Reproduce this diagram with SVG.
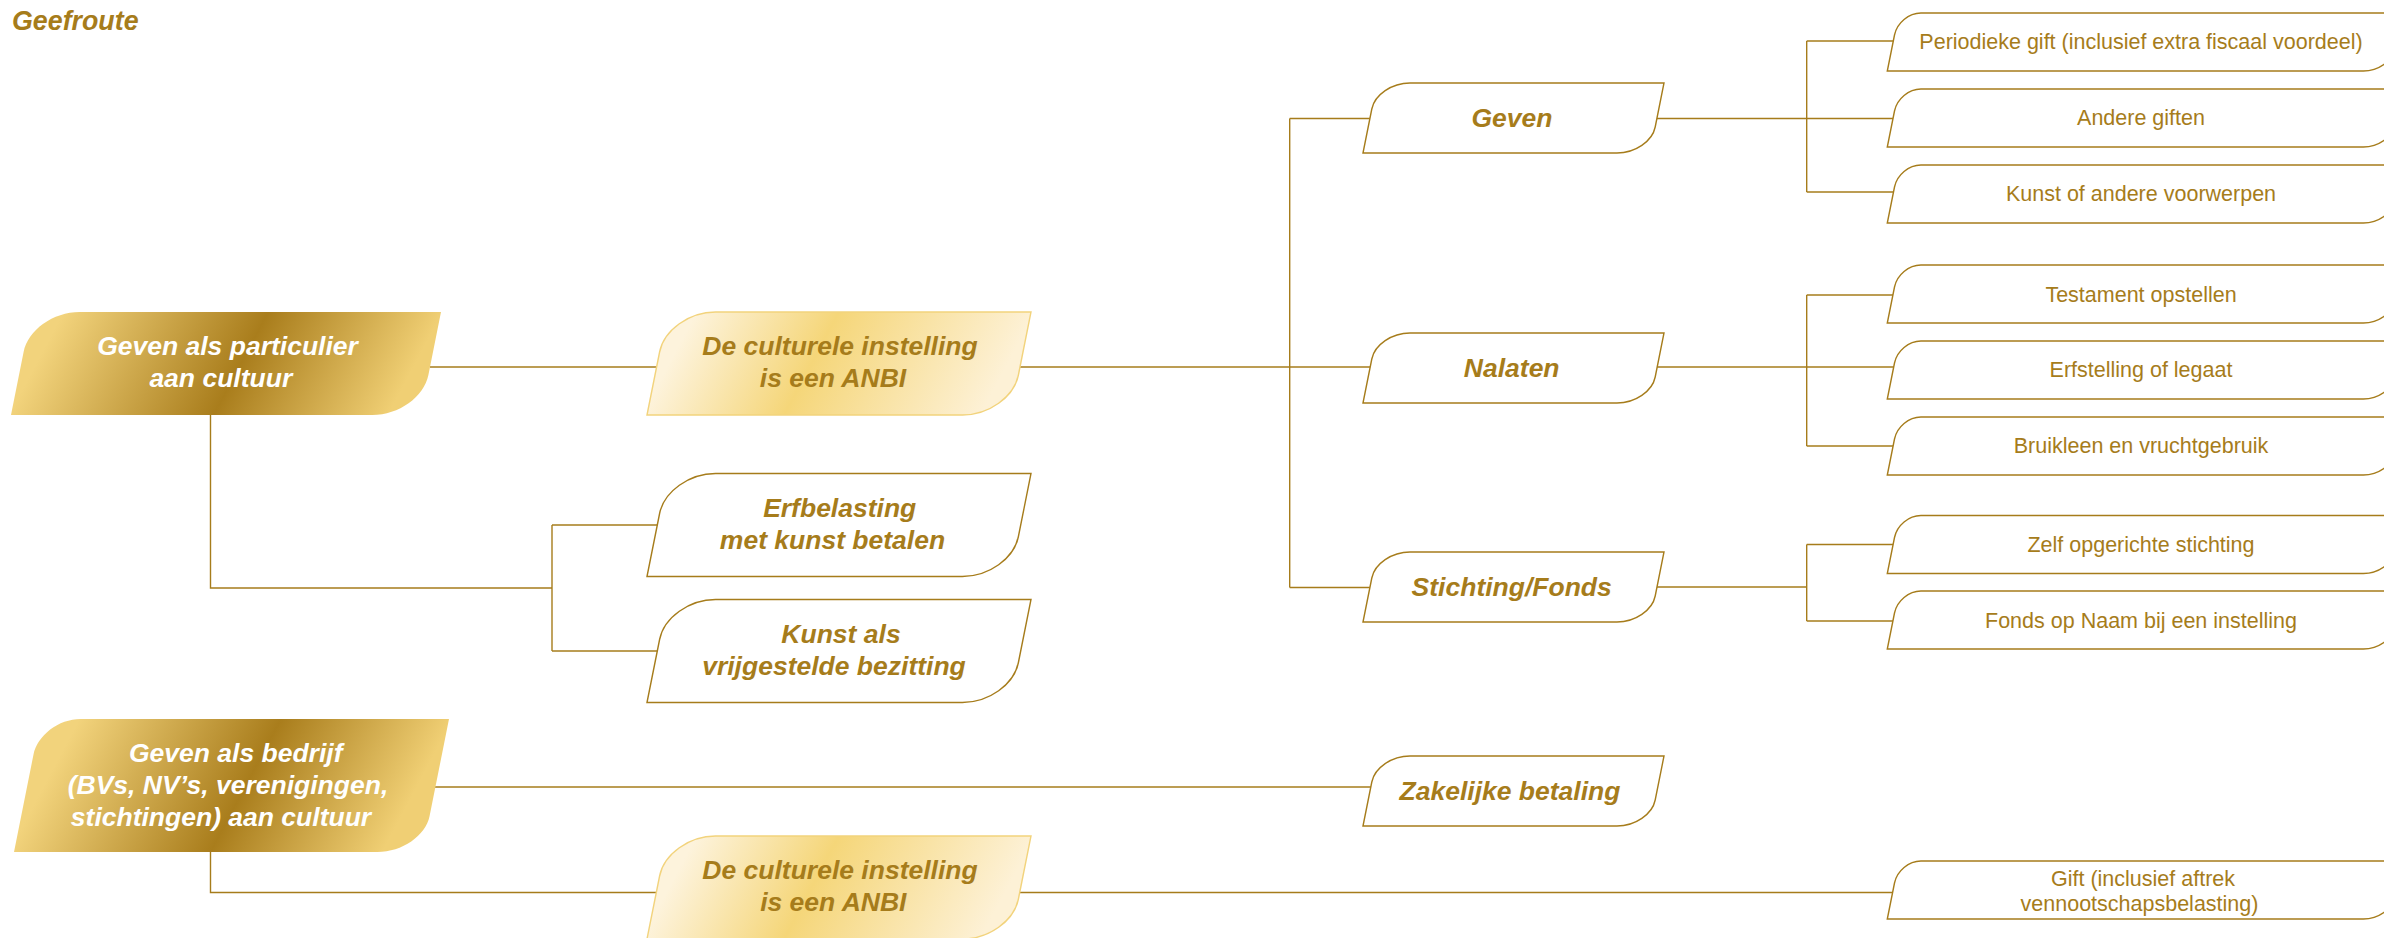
<svg xmlns="http://www.w3.org/2000/svg" width="2384" height="938" viewBox="0 0 2384 938">
<defs>
<style>
.c{fill:none;stroke:#a67c1b;stroke-width:1.4}
.nb{fill:#fff;stroke:#a67c1b;stroke-width:1.4}
.nl{stroke:#f2d37c;stroke-width:1.4}
.tw{fill:#fff;font-family:"Liberation Sans",Arial,sans-serif;font-weight:bold;font-style:italic;font-size:26.5px;text-anchor:middle}
.tg{fill:#a67c1b;font-family:"Liberation Sans",Arial,sans-serif;font-weight:bold;font-style:italic;font-size:26.5px;text-anchor:middle}
.tr{fill:#a67c1b;font-family:"Liberation Sans",Arial,sans-serif;font-size:21.5px;text-anchor:middle}
.title{fill:#a67c1b;font-family:"Liberation Sans",Arial,sans-serif;font-weight:bold;font-style:italic;font-size:26.8px}
</style>
<linearGradient id="gDark1" gradientUnits="userSpaceOnUse" x1="81" y1="279" x2="377" y2="436">
<stop offset="0" stop-color="#f2d37c"/><stop offset="0.54" stop-color="#a97d1c"/><stop offset="1" stop-color="#f0cf74"/>
</linearGradient>
<linearGradient id="gDark2" gradientUnits="userSpaceOnUse" x1="87.5" y1="703.6" x2="379" y2="858.4">
<stop offset="0" stop-color="#f2d37c"/><stop offset="0.54" stop-color="#a97d1c"/><stop offset="1" stop-color="#f0cf74"/>
</linearGradient>
<linearGradient id="gLight" gradientUnits="userSpaceOnUse" x1="700" y1="305" x2="964.5" y2="445.6">
<stop offset="0" stop-color="#fdf3dc"/><stop offset="0.42" stop-color="#f5d679"/><stop offset="1" stop-color="#fdf1d6"/>
</linearGradient>
<path id="shMid" d="M1363,153 L1371.8,109 C1374.66,94.7 1391.85,83 1410,83 L1664,83 L1655.2,127 C1652.34,141.3 1635.15,153 1617,153 Z"/>
<path id="shRight" d="M1887.3,71 L1894.5,35 C1896.92,22.9 1908.8,13 1920.9,13 L2402,13 L2394.8,49 C2392.4,61.1 2378.25,71 2363.4,71 Z"/>
<path id="shAnbi" d="M647,415 L659.6,352 C664,330 689.2,312 715.6,312 L1031,312 L1018.4,375 C1014,397 988.8,415 962.4,415 Z"/>
</defs>

<text class="title" x="12" y="30">Geefroute</text>

<g id="connectors">
<path class="c" d="M430,367 H660"/>
<path class="c" d="M210.5,415 V588 H552"/>
<path class="c" d="M552,525 V651"/>
<path class="c" d="M552,525 H660"/>
<path class="c" d="M552,651 H660"/>
<path class="c" d="M1020,367 H1380"/>
<path class="c" d="M1289.7,118.5 V587.5"/>
<path class="c" d="M1289.7,118.5 H1375"/>
<path class="c" d="M1289.7,587.5 H1375"/>
<path class="c" d="M1656,118.5 H1895"/>
<path class="c" d="M1806.7,41 V192"/>
<path class="c" d="M1806.7,41 H1895"/>
<path class="c" d="M1806.7,192 H1895"/>
<path class="c" d="M1656,367 H1895"/>
<path class="c" d="M1806.7,295 V446"/>
<path class="c" d="M1806.7,295 H1895"/>
<path class="c" d="M1806.7,446 H1895"/>
<path class="c" d="M1656,587 H1806.7"/>
<path class="c" d="M1806.7,544.5 V621"/>
<path class="c" d="M1806.7,544.5 H1895"/>
<path class="c" d="M1806.7,621 H1895"/>
<path class="c" d="M435,787 H1375"/>
<path class="c" d="M210.5,852 V892.5 H1895"/>
</g>

<g id="node-particulier">
<path d="M11,415 L23.6,352 C28,330 53.2,312 79.6,312 L441,312 L428.4,375 C424,397 398.8,415 372.4,415 Z" fill="url(#gDark1)"/>
<text class="tw" x="227.5" y="355">Geven als particulier</text>
<text class="tw" x="220.8" y="387">aan cultuur</text>
</g>

<g id="node-anbi1">
<use href="#shAnbi" class="nl" fill="url(#gLight)"/>
<text class="tg" x="840" y="355">De culturele instelling</text>
<text class="tg" x="833" y="387">is een ANBI</text>
</g>

<g id="node-erfbelasting">
<use href="#shAnbi" class="nb" transform="translate(0,161.5)"/>
<text class="tg" x="839.7" y="516.5">Erfbelasting</text>
<text class="tg" x="832.5" y="548.5">met kunst betalen</text>
</g>

<g id="node-kunst-vrijgesteld">
<use href="#shAnbi" class="nb" transform="translate(0,287.5)"/>
<text class="tg" x="841" y="643">Kunst als</text>
<text class="tg" x="834" y="675">vrijgestelde bezitting</text>
</g>

<g id="node-geven">
<use href="#shMid" class="nb"/>
<text class="tg" x="1512" y="127">Geven</text>
</g>

<g id="node-nalaten">
<use href="#shMid" class="nb" transform="translate(0,250)"/>
<text class="tg" x="1511.7" y="377">Nalaten</text>
</g>

<g id="node-stichting">
<use href="#shMid" class="nb" transform="translate(0,469)"/>
<text class="tg" x="1511.7" y="596">Stichting/Fonds</text>
</g>

<g id="node-zakelijk">
<use href="#shMid" class="nb" transform="translate(0,673)"/>
<text class="tg" x="1510" y="800">Zakelijke betaling</text>
</g>

<g id="node-periodiek">
<use href="#shRight" class="nb"/>
<text class="tr" x="2141" y="49">Periodieke gift (inclusief extra fiscaal voordeel)</text>
</g>

<g id="node-andere-giften">
<use href="#shRight" class="nb" transform="translate(0,76)"/>
<text class="tr" x="2141" y="125">Andere giften</text>
</g>

<g id="node-kunst-voorwerpen">
<use href="#shRight" class="nb" transform="translate(0,152)"/>
<text class="tr" x="2141" y="201">Kunst of andere voorwerpen</text>
</g>

<g id="node-testament">
<use href="#shRight" class="nb" transform="translate(0,252)"/>
<text class="tr" x="2141" y="301.5">Testament opstellen</text>
</g>

<g id="node-erfstelling">
<use href="#shRight" class="nb" transform="translate(0,328)"/>
<text class="tr" x="2141" y="377">Erfstelling of legaat</text>
</g>

<g id="node-bruikleen">
<use href="#shRight" class="nb" transform="translate(0,404)"/>
<text class="tr" x="2141" y="453">Bruikleen en vruchtgebruik</text>
</g>

<g id="node-zelf-stichting">
<use href="#shRight" class="nb" transform="translate(0,502.5)"/>
<text class="tr" x="2141" y="552">Zelf opgerichte stichting</text>
</g>

<g id="node-fonds-op-naam">
<use href="#shRight" class="nb" transform="translate(0,578)"/>
<text class="tr" x="2141" y="627.5">Fonds op Naam bij een instelling</text>
</g>

<g id="node-bedrijf">
<path d="M14,852 L33.4,755 C37.36,735.2 58.6,719 80.6,719 L449,719 L429.6,816 C425.64,835.8 402.15,852 377.4,852 Z" fill="url(#gDark2)"/>
<text class="tw" x="235.7" y="762">Geven als bedrijf</text>
<text class="tw" x="228" y="794">(BVs, NV’s, verenigingen,</text>
<text class="tw" x="221" y="826">stichtingen) aan cultuur</text>
</g>

<g id="node-anbi2">
<use href="#shAnbi" class="nl" fill="url(#gLight)" transform="translate(0,524)"/>
<text class="tg" x="840" y="879">De culturele instelling</text>
<text class="tg" x="833.3" y="911">is een ANBI</text>
</g>

<g id="node-gift">
<use href="#shRight" class="nb" transform="translate(0,848)"/>
<text class="tr" x="2143" y="885.7">Gift (inclusief aftrek</text>
<text class="tr" x="2139.5" y="910.7">vennootschapsbelasting)</text>
</g>
</svg>
